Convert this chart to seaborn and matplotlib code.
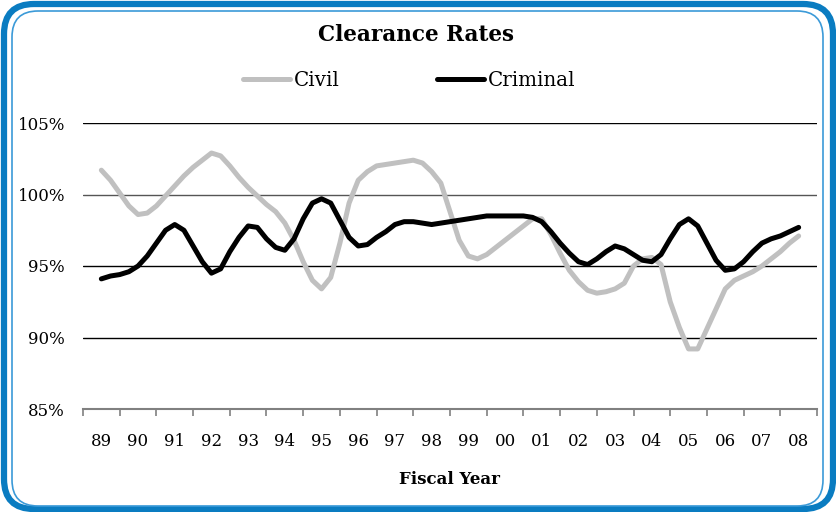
import numpy as np
import pandas as pd
import matplotlib
matplotlib.use("Agg")
import matplotlib.pyplot as plt
from matplotlib.patches import FancyBboxPatch
from matplotlib.transforms import IdentityTransform
import seaborn as sns

# --- Data (quarterly readings, fiscal years 89 to 08) ---
year_labels = ["89", "90", "91", "92", "93", "94", "95", "96", "97", "98",
               "99", "00", "01", "02", "03", "04", "05", "06", "07", "08"]

civil = [101.7, 101.0, 100.1, 99.2, 98.6, 98.7, 99.2, 99.9,
         100.6, 101.3, 101.9, 102.4, 102.9, 102.7, 102.0, 101.2,
         100.5, 99.9, 99.3, 98.8, 98.0, 96.8, 95.3, 94.0,
         93.4, 94.2, 96.6, 99.4, 101.0, 101.6, 102.0, 102.1,
         102.2, 102.3, 102.4, 102.2, 101.6, 100.8, 98.8, 96.8,
         95.7, 95.5, 95.8, 96.3, 96.8, 97.3, 97.8, 98.3,
         98.3, 97.2, 95.9, 94.7, 93.9, 93.3, 93.1, 93.2,
         93.4, 93.8, 95.0, 95.5, 95.6, 95.1, 92.5, 90.7,
         89.2, 89.2, 90.6, 92.0, 93.4, 94.0, 94.3, 94.6,
         95.0, 95.5, 96.0, 96.6, 97.1]

criminal = [94.1, 94.3, 94.4, 94.6, 95.0, 95.7, 96.6, 97.5,
            97.9, 97.5, 96.4, 95.3, 94.5, 94.8, 96.0, 97.0,
            97.8, 97.7, 96.9, 96.3, 96.1, 96.9, 98.3, 99.4,
            99.7, 99.4, 98.2, 97.0, 96.4, 96.5, 97.0, 97.4,
            97.9, 98.1, 98.1, 98.0, 97.9, 98.0, 98.1, 98.2,
            98.3, 98.4, 98.5, 98.5, 98.5, 98.5, 98.5, 98.4,
            98.1, 97.4, 96.6, 95.9, 95.3, 95.1, 95.5, 96.0,
            96.4, 96.2, 95.8, 95.4, 95.3, 95.8, 96.9, 97.9,
            98.3, 97.8, 96.6, 95.4, 94.7, 94.8, 95.3, 96.0,
            96.6, 96.9, 97.1, 97.4, 97.7]

# position in years from FY89, one point per quarter
period = np.arange(len(civil)) / 4

df = pd.concat([
    pd.DataFrame({"period": period, "rate": civil, "series": "Civil"}),
    pd.DataFrame({"period": period, "rate": criminal, "series": "Criminal"}),
], ignore_index=True)

# --- Style ---
sns.set_theme(style="white")
plt.rcParams["font.family"] = ["DejaVu Serif"]
plt.rcParams["text.color"] = "black"
plt.rcParams["axes.labelcolor"] = "black"
plt.rcParams["xtick.color"] = "black"
plt.rcParams["ytick.color"] = "black"

fig = plt.figure(figsize=(8.37, 5.12), dpi=100)
ax = fig.add_axes([83 / 837, 1 - 409 / 512, 734 / 837, 286 / 512])

sns.lineplot(data=df, x="period", y="rate", hue="series",
             palette={"Civil": "#c0c0c0", "Criminal": "#000000"},
             linewidth=3.6, ax=ax, legend=False, solid_capstyle="round")

ax.set_xlim(-0.5, 19.5)
ax.set_ylim(85, 105)

# grid lines
for v in [90, 95, 100, 105]:
    ax.axhline(v, color="#000000" if v != 100 else "#555555", lw=1.0, zorder=0)

ax.set_yticks([85, 90, 95, 100, 105])
ax.set_yticklabels([f"{v}%" for v in [85, 90, 95, 100, 105]])
ax.set_xticks(range(len(year_labels)))
ax.set_xticklabels(year_labels)
ax.set_xticks(np.arange(-0.5, 20, 1), minor=True)
ax.tick_params(axis="x", which="major", length=0, pad=17, labelsize=12)
ax.tick_params(axis="x", which="minor", length=5, width=1.2, color="#808080",
               direction="out", bottom=True)
ax.tick_params(axis="y", length=0, pad=13, labelsize=12)

for side in ["top", "right", "left"]:
    ax.spines[side].set_visible(False)
ax.spines["bottom"].set_color("#808080")
ax.spines["bottom"].set_linewidth(1.5)

ax.set_xlabel("Fiscal Year", fontsize=12, fontweight="bold", labelpad=15.5)
ax.set_ylabel("")

fig.text(0.497, 1 - 35 / 512, "Clearance Rates", ha="center", va="center",
         fontsize=15.5, fontweight="bold")

# legend
handles = [plt.Line2D([], [], color="#c0c0c0", lw=3.6, solid_capstyle="round"),
           plt.Line2D([], [], color="#000000", lw=3.6, solid_capstyle="round")]
fig.legend(handles, ["Civil", "Criminal"], loc="center", ncol=2,
           bbox_to_anchor=(0.489, 1 - 80 / 512), frameon=False, fontsize=14.3,
           handlelength=2.35, handletextpad=0.2, columnspacing=4.9)

# rounded blue border (pixel coordinates)
H = 512
outer = FancyBboxPatch((4, H - 509), 829, 505,
                       boxstyle="round,pad=0,rounding_size=30",
                       transform=IdentityTransform(), fill=False,
                       edgecolor="#0a7cc1", lw=4.5)
inner = FancyBboxPatch((12, H - 506), 811, 495,
                       boxstyle="round,pad=0,rounding_size=26",
                       transform=IdentityTransform(), fill=False,
                       edgecolor="#3b9ad8", lw=1.2)
fig.add_artist(outer)
fig.add_artist(inner)

fig.savefig("out.png", dpi=100)
